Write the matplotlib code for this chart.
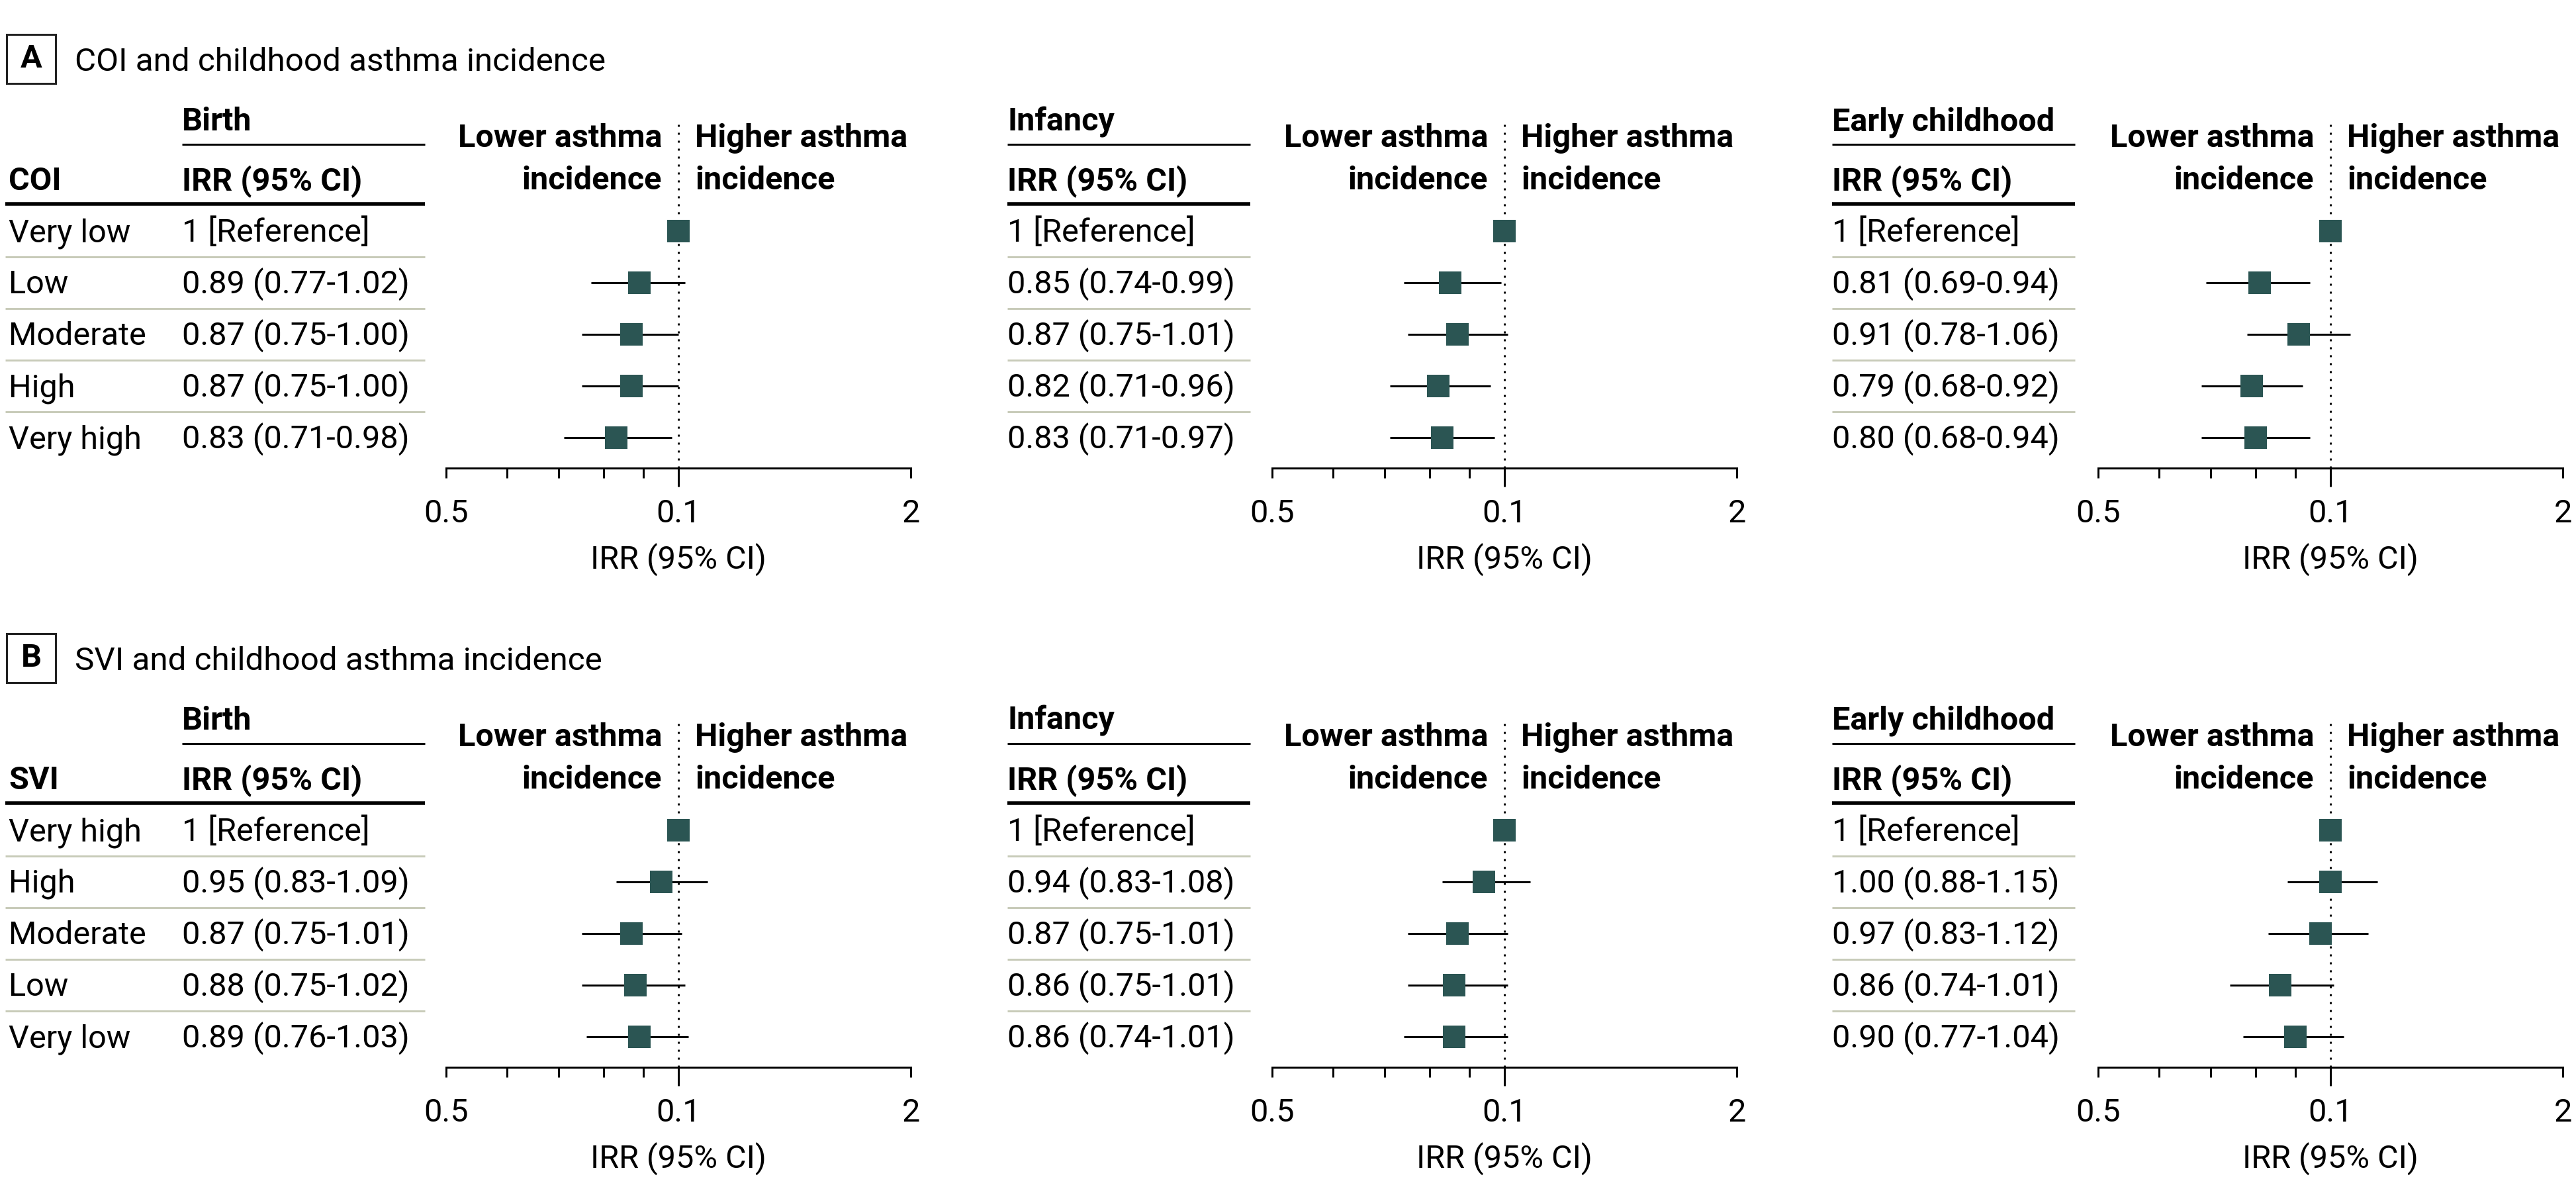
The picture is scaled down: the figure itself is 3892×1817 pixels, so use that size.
import numpy as np
import matplotlib
matplotlib.use("Agg")
import matplotlib.pyplot as plt
from matplotlib.lines import Line2D
from matplotlib.patches import Rectangle
from matplotlib.ticker import FixedLocator, NullFormatter

plt.rcParams['font.family'] = ['Roboto', 'DejaVu Sans']

nan = np.nan
PERIODS = ["Birth", "Infancy", "Early childhood"]
COI_LEVELS = ["Very low", "Low", "Moderate", "High", "Very high"]
SVI_LEVELS = ["Very high", "High", "Moderate", "Low", "Very low"]

# one list per period; first row is the reference level
COI_IRR = [[1, 0.89, 0.87, 0.87, 0.83], [1, 0.85, 0.87, 0.82, 0.83], [1, 0.81, 0.91, 0.79, 0.80]]
COI_LO = [[nan, 0.77, 0.75, 0.75, 0.71], [nan, 0.74, 0.75, 0.71, 0.71], [nan, 0.69, 0.78, 0.68, 0.68]]
COI_HI = [[nan, 1.02, 1.00, 1.00, 0.98], [nan, 0.99, 1.01, 0.96, 0.97], [nan, 0.94, 1.06, 0.92, 0.94]]
SVI_IRR = [[1, 0.95, 0.87, 0.88, 0.89], [1, 0.94, 0.87, 0.86, 0.86], [1, 1.00, 0.97, 0.86, 0.90]]
SVI_LO = [[nan, 0.83, 0.75, 0.75, 0.76], [nan, 0.83, 0.75, 0.75, 0.74], [nan, 0.88, 0.83, 0.74, 0.77]]
SVI_HI = [[nan, 1.09, 1.01, 1.02, 1.03], [nan, 1.08, 1.01, 1.01, 1.01], [nan, 1.15, 1.12, 1.01, 1.04]]

XTICKS = [0.5, 1, 2]
XTICKLABELS = ["0.5", "0.1", "2"]
XMINOR = [0.6, 0.7, 0.8, 0.9]

PANELS = [
    ("A", "COI and childhood asthma incidence", "COI", COI_LEVELS, COI_IRR, COI_LO, COI_HI),
    ("B", "SVI and childhood asthma incidence", "SVI", SVI_LEVELS, SVI_IRR, SVI_LO, SVI_HI),
]

# ---- layout (pixels of the 3892 x 1817 canvas) ----
W, H, DPI = 3892, 1817, 200
PT = 72 / DPI                      # points per pixel
FS, FS_T = 17.5, 17.8
SQ = "#2b5553"
SEP = "#c8cbb9"
TABLE_X = [275, 1522, 2768]; TABLE_W = 367
AX_X = [674, 1922, 3170]; AX_W = 702
AX_TOP, AX_BOT = 183, 707
ROW0, ROW_DY = 349, 78
PANEL_DY = 905

fig = plt.figure(figsize=(W / DPI, H / DPI), dpi=DPI)


def fx(x):
    return x / W


def fy(y):
    return 1 - y / H


def txt(x, y, s, **kw):
    kw.setdefault("size", FS)
    fig.text(fx(x), fy(y), s, va="baseline", **kw)


def hline(x0, x1, y, px, color="black"):
    fig.add_artist(Line2D([fx(x0), fx(x1)], [fy(y), fy(y)], lw=px * PT, color=color,
                          transform=fig.transFigure, solid_capstyle="butt"))


for p, (letter, title, var, levels, irr, lo, hi) in enumerate(PANELS):
    oy = p * PANEL_DY
    fig.add_artist(Rectangle((fx(10), fy(oy + 126)), 74 / W, 74 / H, fill=False,
                             lw=3 * PT, ec="#222222", transform=fig.transFigure))
    txt(47, oy + 102, letter, ha="center", weight="bold")
    txt(113, oy + 107, title, size=FS_T)
    txt(13, oy + 287, var, weight="bold")
    for i, lev in enumerate(levels):
        txt(13, oy + ROW0 + 16 + ROW_DY * i, lev)

    for g in range(3):
        tx = TABLE_X[g]
        x0 = 8 if g == 0 else tx
        x1 = tx + TABLE_W
        txt(tx, oy + 197, PERIODS[g], weight="bold")
        hline(tx, x1, oy + 218, 3)
        txt(tx, oy + 287, "IRR (95% CI)", weight="bold")
        hline(x0, x1, oy + 308, 5.5)
        for i in range(5):
            if i == 0:
                s = "1 [Reference]"
            else:
                s = f"{irr[g][i]:.2f} ({lo[g][i]:.2f}-{hi[g][i]:.2f})"
            txt(tx, oy + ROW0 + 16 + ROW_DY * i, s)
            if i < 4:
                hline(x0, x1, oy + ROW0 + 39 + ROW_DY * i, 3, SEP)

        # forest plot
        ax = fig.add_axes([fx(AX_X[g]), fy(oy + AX_BOT), AX_W / W, (AX_BOT - AX_TOP) / H])
        ax.set_xscale("log")
        ax.set_xlim(0.5, 2)
        ax.set_ylim((AX_BOT - ROW0) / ROW_DY, (AX_TOP - ROW0) / ROW_DY)
        rows = np.arange(5)
        v = np.array(irr[g], float); l = np.array(lo[g]); h = np.array(hi[g])
        ax.axvline(1, color="black", lw=3 * PT, ls=(0, (1, 3)), zorder=1)
        ax.errorbar(v[1:], rows[1:], xerr=[v[1:] - l[1:], h[1:] - v[1:]], fmt="none",
                    ecolor="black", elinewidth=3 * PT, capsize=0, zorder=2)
        ax.plot(v, rows, "s", ms=34 * PT, color=SQ, mec=SQ, mew=0, zorder=3)
        for sp in ("top", "left", "right"):
            ax.spines[sp].set_visible(False)
        ax.spines["bottom"].set_linewidth(3 * PT)
        ax.patch.set_alpha(0)
        ax.set_yticks([])
        ax.xaxis.set_major_locator(FixedLocator(XTICKS))
        ax.set_xticklabels(XTICKLABELS, fontsize=FS)
        ax.xaxis.set_minor_locator(FixedLocator(XMINOR))
        ax.xaxis.set_minor_formatter(NullFormatter())
        ax.tick_params(axis="x", which="both", length=15 * PT, width=3 * PT, pad=31 * PT)
        ax.xaxis.get_major_ticks()[1].tick1line.set_markersize(28 * PT)
        ax.set_xlabel("IRR (95% CI)", fontsize=FS)
        ax.xaxis.set_label_coords(0.5, -(820 - AX_BOT) / (AX_BOT - AX_TOP))

        xc = AX_X[g] + AX_W / 2
        txt(xc - 25, oy + 222, "Lower asthma", ha="right", weight="bold")
        txt(xc - 25, oy + 286, "incidence", ha="right", weight="bold")
        txt(xc + 25, oy + 222, "Higher asthma", ha="left", weight="bold")
        txt(xc + 25, oy + 286, "incidence", ha="left", weight="bold")

fig.savefig("out.png", dpi=DPI, facecolor="white")
